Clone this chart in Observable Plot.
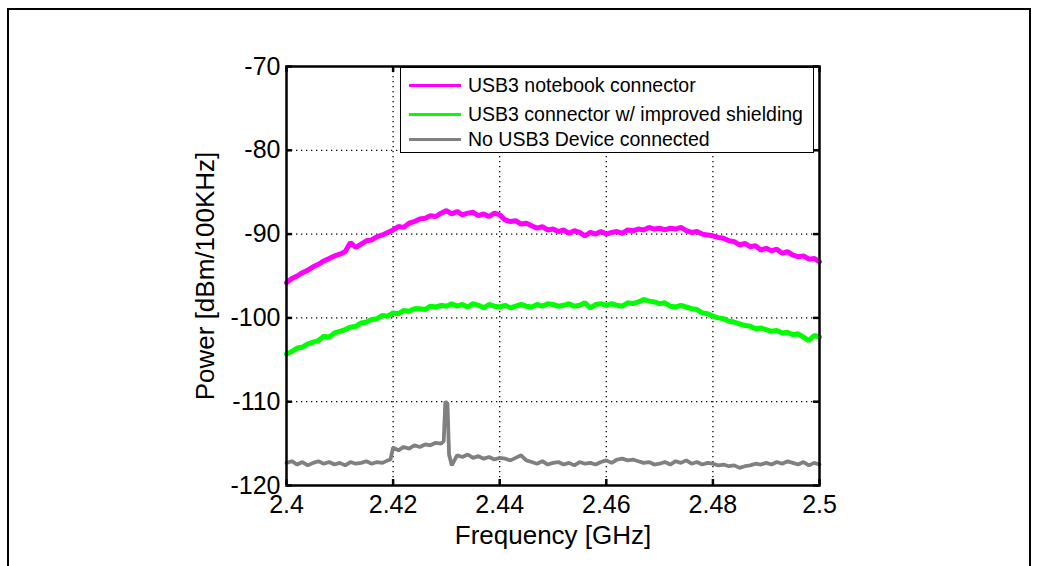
<!DOCTYPE html>
<html>
<head>
<meta charset="utf-8">
<script src="https://cdn.jsdelivr.net/npm/d3@7"></script>
<script src="https://cdn.jsdelivr.net/npm/@observablehq/plot@0.6"></script>
<style>
  html, body { margin: 0; padding: 0; background: #fff; }
  #wrap { position: relative; width: 1049px; height: 566px; overflow: hidden; font-family: "Liberation Sans", Arial, sans-serif; }
  #border { position: absolute; left: 7px; top: 8px; width: 1024px; height: 600px; border: 2px solid #000; box-sizing: border-box; }
  #chart { position: absolute; left: 0; top: 0; }
  #legend { position: absolute; left: 400px; top: 67px; width: 414px; height: 86px; box-sizing: border-box; border: 1px solid #000; background: #fff; }
  .row { position: absolute; left: 0; height: 26px; }
  .sw { position: absolute; left: 8px; width: 52px; height: 3px; }
  .lbl { position: absolute; left: 67px; white-space: nowrap; font-size: 19.5px; line-height: 26px; color: #000; }
</style>
</head>
<body>
<div id="wrap">
  <div id="border"></div>
  <div id="chart"></div>
  <div id="legend"></div>
</div>
<script>
// ---- data ----
const freq = [
  2.400,2.401,2.402,2.403,2.404,2.405,2.406,2.407,2.408,2.409,
  2.410,2.411,2.412,2.413,2.414,2.415,2.416,2.417,2.418,2.419,
  2.420,2.421,2.422,2.423,2.424,2.425,2.426,2.427,2.428,2.429,
  2.430,2.431,2.432,2.433,2.434,2.435,2.436,2.437,2.438,2.439,
  2.440,2.441,2.442,2.443,2.444,2.445,2.446,2.447,2.448,2.449,
  2.450,2.451,2.452,2.453,2.454,2.455,2.456,2.457,2.458,2.459,
  2.460,2.461,2.462,2.463,2.464,2.465,2.466,2.467,2.468,2.469,
  2.470,2.471,2.472,2.473,2.474,2.475,2.476,2.477,2.478,2.479,
  2.480,2.481,2.482,2.483,2.484,2.485,2.486,2.487,2.488,2.489,
  2.490,2.491,2.492,2.493,2.494,2.495,2.496,2.497,2.498,2.499,
  2.500
];
const notebookPower = [
  -95.8,-95.3,-95.0,-94.6,-94.3,-93.9,-93.6,-93.2,-92.9,-92.6,
  -92.4,-92.1,-91.0,-91.6,-91.2,-90.8,-90.7,-90.3,-90.1,-89.8,
  -89.5,-89.1,-89.2,-88.7,-88.5,-88.2,-88.1,-87.8,-87.9,-87.5,
  -87.2,-87.6,-87.3,-87.7,-87.5,-87.4,-87.8,-87.6,-87.9,-87.5,
  -87.7,-88.3,-88.5,-88.4,-88.8,-88.7,-89.0,-89.3,-89.1,-89.5,
  -89.4,-89.7,-89.5,-89.9,-89.6,-89.8,-90.2,-89.8,-90.0,-89.7,
  -90.0,-89.8,-89.7,-89.9,-89.5,-89.6,-89.4,-89.5,-89.2,-89.4,
  -89.3,-89.5,-89.3,-89.4,-89.2,-89.6,-89.8,-89.7,-90.0,-90.1,
  -90.2,-90.4,-90.5,-90.8,-90.9,-91.3,-91.1,-91.5,-91.4,-91.9,
  -91.7,-92.0,-91.8,-92.3,-92.1,-92.5,-92.7,-92.6,-93.0,-92.9,
  -93.3
];
const shieldedPower = [
  -104.3,-104.0,-103.6,-103.5,-103.1,-102.9,-102.7,-102.2,-102.3,-101.8,
  -101.6,-101.4,-101.1,-101.0,-100.6,-100.5,-100.2,-100.1,-99.7,-99.8,
  -99.4,-99.5,-99.1,-99.2,-98.9,-98.9,-99.0,-98.6,-98.7,-98.5,
  -98.6,-98.3,-98.6,-98.4,-98.7,-98.3,-98.5,-98.8,-98.4,-98.6,
  -98.7,-98.5,-98.8,-98.6,-98.4,-98.6,-98.7,-98.4,-98.6,-98.3,
  -98.4,-98.6,-98.5,-98.3,-98.6,-98.5,-98.2,-98.8,-98.4,-98.3,
  -98.5,-98.3,-98.5,-98.6,-98.2,-98.3,-98.1,-97.8,-98.0,-98.1,
  -98.3,-98.2,-98.6,-98.7,-98.5,-98.7,-98.9,-99.0,-99.4,-99.5,
  -99.8,-100.0,-100.1,-100.4,-100.5,-100.7,-100.9,-101.0,-101.3,-101.2,
  -101.4,-101.6,-101.5,-101.8,-101.7,-102.0,-101.9,-102.3,-102.7,-102.1,
  -102.3
];
const noDeviceFreq = [
  2.400,2.401,2.402,2.403,2.404,2.405,2.406,2.407,2.408,2.409,
  2.410,2.411,2.412,2.413,2.414,2.415,2.416,2.417,2.418,2.419,2.4195,
  2.420,2.421,2.422,2.423,2.424,2.425,2.426,2.427,2.428,2.429,2.4295,2.4298,
  2.4302,2.4305,2.431,2.432,2.433,2.434,2.435,2.436,2.437,2.438,2.439,
  2.440,2.441,2.442,2.443,2.444,2.445,2.446,2.447,2.448,2.449,
  2.450,2.451,2.452,2.453,2.454,2.455,2.456,2.457,2.458,2.459,
  2.460,2.461,2.462,2.463,2.464,2.465,2.466,2.467,2.468,2.469,
  2.470,2.471,2.472,2.473,2.474,2.475,2.476,2.477,2.478,2.479,
  2.480,2.481,2.482,2.483,2.484,2.485,2.486,2.487,2.488,2.489,
  2.490,2.491,2.492,2.493,2.494,2.495,2.496,2.497,2.498,2.499,
  2.500
];
const noDevicePower = [
  -117.3,-117.1,-117.5,-117.2,-117.6,-117.3,-117.1,-117.4,-117.2,-117.5,
  -117.3,-117.6,-117.2,-117.4,-117.3,-117.1,-117.4,-117.2,-117.3,-117.0,-116.9,
  -115.5,-115.8,-115.4,-115.6,-115.2,-115.4,-115.1,-115.2,-114.9,-115.0,-114.7,-110.0,
  -110.2,-116.3,-117.6,-116.4,-116.6,-116.3,-116.7,-116.5,-116.8,-116.6,-116.9,
  -116.7,-116.8,-117.0,-116.7,-116.4,-117.0,-117.2,-117.4,-117.1,-117.5,
  -117.3,-117.2,-117.5,-117.3,-117.6,-117.2,-117.4,-117.3,-117.5,-117.2,
  -117.0,-117.3,-116.9,-116.8,-117.0,-116.9,-117.1,-117.3,-117.2,-117.5,
  -117.4,-117.2,-117.5,-117.1,-117.3,-117.0,-117.4,-117.2,-117.5,-117.3,
  -117.4,-117.6,-117.5,-117.7,-117.6,-117.9,-117.7,-117.6,-117.4,-117.5,
  -117.3,-117.5,-117.2,-117.4,-117.1,-117.3,-117.5,-117.2,-117.6,-117.3,
  -117.5
];
const seriesNames = ["USB3 notebook connector", "USB3 connector w/ improved shielding", "No USB3 Device connected"];
const seriesColors = ["#ff00ff", "#00ff00", "#808080"];
const xTicks = [2.4, 2.42, 2.44, 2.46, 2.48, 2.5];
const xTickLabels = ["2.4", "2.42", "2.44", "2.46", "2.48", "2.5"];
const yTicks = [-120, -110, -100, -90, -80, -70];
const yTickLabels = ["-120", "-110", "-100", "-90", "-80", "-70"];
const xTitle = "Frequency [GHz]";
const yTitle = "Power [dBm/100KHz]";

// ---- build tables ----
const notebook = freq.map((f, i) => ({f, p: notebookPower[i]}));
const shielded = freq.map((f, i) => ({f, p: shieldedPower[i]}));
const noDevice = noDeviceFreq.map((f, i) => ({f, p: noDevicePower[i]}));
const innerX = xTicks.slice(1, -1);
const innerY = yTicks.slice(1, -1);

const font = "'Liberation Sans', Arial, sans-serif";
const chart = Plot.plot({
  width: 1049,
  height: 566,
  marginLeft: 286,
  marginRight: 230,
  marginTop: 66,
  marginBottom: 81,
  style: {fontFamily: font, background: "transparent", color: "#000", overflow: "visible"},
  x: {domain: [2.4, 2.5]},
  y: {domain: [-120, -70]},
  marks: [
    Plot.ruleX(innerX, {x: d => d, stroke: "#000", strokeWidth: 1.3, strokeDasharray: "1.3,3.7"}),
    Plot.ruleY(innerY, {y: d => d, stroke: "#000", strokeWidth: 1.3, strokeDasharray: "1.3,3.7"}),
    Plot.line(notebook, {x: "f", y: "p", stroke: seriesColors[0], strokeWidth: 5, strokeLinejoin: "miter"}),
    Plot.line(shielded, {x: "f", y: "p", stroke: seriesColors[1], strokeWidth: 5, strokeLinejoin: "miter"}),
    Plot.line(noDevice, {x: "f", y: "p", stroke: seriesColors[2], strokeWidth: 3.8, strokeLinejoin: "miter"}),
    Plot.tickX(xTicks, {x: d => d, stroke: "#000", strokeWidth: 2.5, insetTop: 413}),
    Plot.tickX(xTicks, {x: d => d, stroke: "#000", strokeWidth: 2.5, insetBottom: 413}),
    Plot.tickY(yTicks, {y: d => d, stroke: "#000", strokeWidth: 2.5, insetRight: 527}),
    Plot.tickY(yTicks, {y: d => d, stroke: "#000", strokeWidth: 2.5, insetLeft: 527}),
    Plot.frame({stroke: "#000", strokeWidth: 2.5}),
    Plot.axisX(xTicks, {tickSize: 0, tickPadding: 10, fontSize: 25, tickFormat: (d, i) => xTickLabels[i], label: null}),
    Plot.axisY(yTicks, {tickSize: 0, tickPadding: 6, fontSize: 25, tickFormat: (d, i) => yTickLabels[i], label: null}),
    Plot.text([xTitle], {text: d => d, frameAnchor: "bottom", dy: 50, lineAnchor: "middle", textAnchor: "middle", fontSize: 26}),
    Plot.text([yTitle], {text: d => d, frameAnchor: "left", dx: -81, rotate: -90, lineAnchor: "middle", textAnchor: "middle", fontSize: 26})
  ]
});
document.getElementById("chart").appendChild(chart);

// ---- legend ----
const legend = document.getElementById("legend");
const rowTops = [4, 33, 58];
seriesNames.forEach((name, i) => {
  const row = document.createElement("div");
  row.className = "row";
  row.style.top = rowTops[i] + "px";
  row.style.width = "100%";
  const sw = document.createElement("div");
  sw.className = "sw";
  sw.style.background = seriesColors[i];
  sw.style.top = "11.5px";
  const lbl = document.createElement("div");
  lbl.className = "lbl";
  lbl.style.top = "0px";
  lbl.textContent = name;
  row.appendChild(sw);
  row.appendChild(lbl);
  legend.appendChild(row);
});
</script>
</body>
</html>
